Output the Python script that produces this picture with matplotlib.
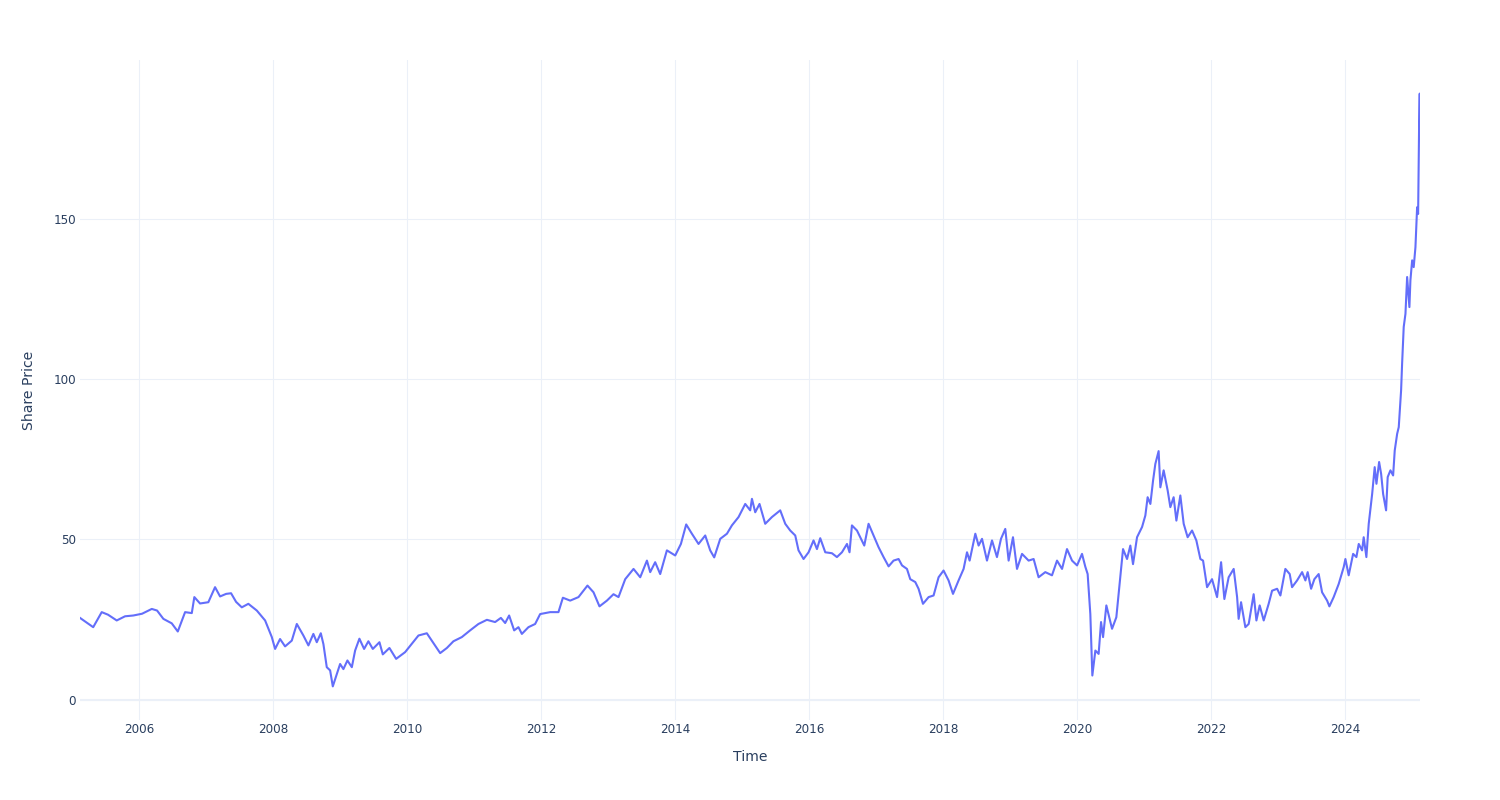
import matplotlib
matplotlib.use("Agg")
import matplotlib.pyplot as plt

# Decimal-year time stamps and share prices
years = [
    2005.119, 2005.316, 2005.443, 2005.537, 2005.667, 2005.791, 2005.915, 2006.045,
    2006.190, 2006.269, 2006.363, 2006.488, 2006.578, 2006.687, 2006.787, 2006.825,
    2006.910, 2007.034, 2007.134, 2007.209, 2007.299, 2007.373, 2007.448, 2007.533,
    2007.631, 2007.757, 2007.881, 2007.981, 2008.030, 2008.104, 2008.179, 2008.279,
    2008.354, 2008.452, 2008.527, 2008.601, 2008.652, 2008.712, 2008.751, 2008.801,
    2008.851, 2008.891, 2008.951, 2009.000, 2009.049, 2009.109, 2009.175, 2009.224,
    2009.288, 2009.358, 2009.422, 2009.488, 2009.587, 2009.637, 2009.736, 2009.836,
    2009.970, 2010.070, 2010.169, 2010.294, 2010.393, 2010.493, 2010.593, 2010.691,
    2010.816, 2010.940, 2011.064, 2011.190, 2011.313, 2011.399, 2011.463, 2011.522,
    2011.597, 2011.661, 2011.712, 2011.810, 2011.910, 2011.985, 2012.134, 2012.258,
    2012.324, 2012.433, 2012.557, 2012.691, 2012.781, 2012.870, 2012.981, 2013.079,
    2013.154, 2013.254, 2013.378, 2013.478, 2013.578, 2013.627, 2013.701, 2013.776,
    2013.876, 2014.000, 2014.085, 2014.164, 2014.249, 2014.348, 2014.448, 2014.522,
    2014.582, 2014.672, 2014.772, 2014.846, 2014.945, 2015.045, 2015.119, 2015.145,
    2015.194, 2015.258, 2015.343, 2015.443, 2015.567, 2015.642, 2015.716, 2015.791,
    2015.840, 2015.915, 2015.990, 2016.064, 2016.115, 2016.164, 2016.239, 2016.339,
    2016.413, 2016.488, 2016.563, 2016.601, 2016.637, 2016.712, 2016.761, 2016.821,
    2016.885, 2016.960, 2017.034, 2017.109, 2017.184, 2017.258, 2017.333, 2017.384,
    2017.458, 2017.507, 2017.582, 2017.631, 2017.697, 2017.781, 2017.855, 2017.930,
    2018.004, 2018.079, 2018.145, 2018.228, 2018.303, 2018.354, 2018.393, 2018.478,
    2018.527, 2018.578, 2018.652, 2018.727, 2018.801, 2018.861, 2018.925, 2018.975,
    2019.040, 2019.100, 2019.175, 2019.273, 2019.348, 2019.422, 2019.522, 2019.622,
    2019.697, 2019.772, 2019.846, 2019.921, 2019.996, 2020.070, 2020.119, 2020.154,
    2020.194, 2020.224, 2020.269, 2020.318, 2020.354, 2020.384, 2020.433, 2020.518,
    2020.582, 2020.631, 2020.682, 2020.742, 2020.791, 2020.831, 2020.891, 2020.966,
    2021.015, 2021.049, 2021.090, 2021.130, 2021.164, 2021.213, 2021.239, 2021.288,
    2021.348, 2021.388, 2021.437, 2021.478, 2021.537, 2021.587, 2021.646, 2021.712,
    2021.776, 2021.836, 2021.876, 2021.936, 2022.010, 2022.085, 2022.145, 2022.194,
    2022.258, 2022.333, 2022.384, 2022.407, 2022.443, 2022.507, 2022.557, 2022.631,
    2022.672, 2022.721, 2022.781, 2022.855, 2022.906, 2022.981, 2023.030, 2023.104,
    2023.169, 2023.204, 2023.279, 2023.354, 2023.403, 2023.437, 2023.488, 2023.537,
    2023.601, 2023.652, 2023.727, 2023.761, 2023.825, 2023.900, 2023.975, 2024.000,
    2024.049, 2024.115, 2024.164, 2024.199, 2024.249, 2024.273, 2024.313, 2024.348,
    2024.399, 2024.437, 2024.463, 2024.503, 2024.533, 2024.563, 2024.607, 2024.631,
    2024.672, 2024.712, 2024.736, 2024.772, 2024.796, 2024.831, 2024.846, 2024.870,
    2024.896, 2024.921, 2024.955, 2024.970, 2024.996, 2025.019, 2025.045, 2025.070,
    2025.085, 2025.100, 2025.109, 2025.113,
]

share_price = [
    25.5, 22.6, 27.3, 26.5, 24.7, 26.0, 26.25, 26.8,
    28.3, 27.8, 25.2, 23.8, 21.25, 27.3, 27.0, 32.0,
    30.0, 30.4, 35.1, 32.2, 33.0, 33.2, 30.5, 28.8,
    29.9, 27.8, 24.7, 19.5, 15.8, 18.9, 16.6, 18.4,
    23.6, 20.0, 16.9, 20.5, 17.9, 20.7, 17.3, 10.1,
    9.1, 4.1, 8.0, 11.1, 9.5, 12.2, 10.1, 15.3,
    19.0, 15.8, 18.2, 15.8, 17.9, 14.1, 16.1, 12.7,
    14.8, 17.4, 20.0, 20.7, 17.6, 14.5, 16.1, 18.2,
    19.5, 21.6, 23.6, 24.9, 24.2, 25.5, 23.9, 26.25,
    21.6, 22.6, 20.5, 22.6, 23.6, 26.7, 27.3, 27.3,
    31.8, 30.9, 32.0, 35.6, 33.5, 29.1, 30.9, 32.9,
    32.0, 37.6, 40.8, 38.2, 43.4, 39.8, 42.9, 39.2,
    46.6, 45.0, 48.6, 54.7, 51.8, 48.6, 51.25, 46.6,
    44.4, 50.2, 51.8, 54.4, 57.0, 61.1, 59.1, 62.7,
    58.5, 61.1, 54.9, 57.0, 59.1, 54.9, 52.8, 51.25,
    46.6, 43.9, 46.0, 49.7, 47.0, 50.4, 46.0, 45.7,
    44.5, 46.0, 48.6, 46.0, 54.4, 52.8, 50.7, 48.1,
    54.9, 51.25, 47.6, 44.5, 41.6, 43.4, 43.9, 41.9,
    40.8, 37.6, 36.7, 34.6, 29.9, 32.0, 32.5, 38.2,
    40.3, 37.2, 33.0, 37.2, 40.8, 46.0, 43.4, 51.8,
    48.1, 50.2, 43.4, 49.7, 44.5, 50.2, 53.3, 43.4,
    50.7, 40.8, 45.5, 43.4, 43.9, 38.2, 39.8, 38.8,
    43.4, 40.8, 47.0, 43.4, 41.9, 45.5, 41.5, 39.2,
    26.7, 7.5, 15.3, 14.25, 24.2, 19.5, 29.4, 22.1,
    25.7, 36.1, 47.0, 43.9, 48.1, 42.3, 50.7, 53.9,
    57.5, 63.2, 61.1, 68.4, 73.6, 77.6, 66.3, 71.6,
    65.3, 60.1, 63.2, 55.9, 63.75, 54.9, 50.7, 52.8,
    49.7, 43.9, 43.4, 35.1, 37.6, 32.0, 42.9, 31.4,
    38.2, 40.8, 32.0, 25.2, 30.4, 22.6, 23.6, 32.9,
    24.7, 29.4, 24.7, 29.9, 34.0, 34.6, 32.5, 40.8,
    39.2, 35.1, 37.2, 39.8, 37.2, 39.8, 34.6, 37.6,
    39.2, 33.5, 30.9, 29.1, 32.0, 36.1, 41.4, 43.9,
    38.8, 45.5, 44.5, 48.6, 46.6, 50.7, 44.5, 54.9,
    64.2, 72.6, 67.4, 74.2, 70.5, 64.2, 59.1, 69.5,
    71.6, 70.0, 77.8, 83.0, 85.1, 96.6, 104.9, 116.4,
    120.5, 132.0, 122.6, 131.0, 137.2, 135.1, 141.3, 153.8,
    151.7, 179.9, 189.3, 177.0,
]

x_ticks = [2006, 2008, 2010, 2012, 2014, 2016, 2018, 2020, 2022, 2024]
x_tick_labels = [str(y) for y in x_ticks]
y_ticks = [0, 50, 100, 150]
y_tick_labels = ["0", "50", "100", "150"]

TEXT = "#2a3f5f"
GRID = "#EBF0F8"
LINE = "#636efa"

plt.rcParams["font.family"] = ["DejaVu Sans"]

fig = plt.figure(figsize=(15, 8), dpi=100)
ax = fig.add_axes([80 / 1500, 80 / 800, 1340 / 1500, 660 / 800])

ax.plot(years, share_price, color=LINE, linewidth=1.5, solid_joinstyle="round", zorder=3)

ax.set_xlim(min(years), max(years))
ax.set_ylim(-6.4, 199.8)

ax.set_xticks(x_ticks)
ax.set_xticklabels(x_tick_labels)
ax.set_yticks(y_ticks)
ax.set_yticklabels(y_tick_labels)

ax.grid(True, color=GRID, linewidth=0.75, zorder=0)
ax.axhline(0, color=GRID, linewidth=1.5, zorder=1)
for s in ax.spines.values():
    s.set_visible(False)

ax.tick_params(axis="both", length=0, labelsize=8.64, labelcolor=TEXT)
ax.tick_params(axis="x", pad=2)
ax.tick_params(axis="y", pad=3)

ax.set_xlabel("Time", fontsize=10.08, color=TEXT, labelpad=10.5)
ax.set_ylabel("Share Price", fontsize=10.08, color=TEXT, labelpad=12.5)

fig.savefig("out.png", dpi=100, facecolor="white")
